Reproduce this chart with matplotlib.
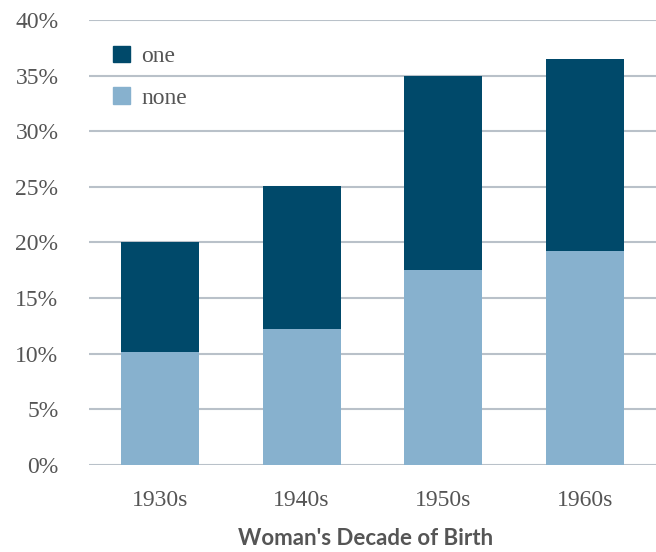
import matplotlib
matplotlib.use("Agg")
import matplotlib.pyplot as plt
from matplotlib.patches import Patch
import numpy as np

categories = ["1930s", "1940s", "1950s", "1960s"]
none_vals = [10.2, 12.2, 17.5, 19.2]
one_vals = [9.8, 12.9, 17.5, 17.3]
yticks = [0, 5, 10, 15, 20, 25, 30, 35, 40]

c_one = "#00496a"
c_none = "#87b1ce"
grid_c = "#b9c1c9"
text_c = "#555555"
serif = "Liberation Serif"

fig = plt.figure(figsize=(6.56, 5.52), dpi=100)
ax = fig.add_axes([0.1357, 0.1576, 0.8643, 0.8062])
x = np.arange(len(categories))
w = 0.55
ax.bar(x, none_vals, w, color=c_none, zorder=3)
ax.bar(x, one_vals, w, bottom=none_vals, color=c_one, zorder=3)
ax.set_xlim(-0.5, 3.5)
ax.set_ylim(0, 40)
ax.set_yticks(yticks)
ax.set_yticklabels([f"{v}%" for v in yticks], family=serif, fontsize=17, color=text_c)
ax.set_xticks(x)
ax.set_xticklabels(categories, family=serif, fontsize=17, color=text_c)
ax.yaxis.grid(True, color=grid_c, linewidth=1.5, zorder=0)
ax.set_axisbelow(True)
for s in ax.spines.values():
    s.set_visible(False)
ax.tick_params(axis="both", length=0)
ax.tick_params(axis="y", pad=22)
ax.tick_params(axis="x", pad=18)
ax.set_xlabel("Woman's Decade of Birth", family="Lato", fontweight="bold", fontsize=16, color=text_c, labelpad=12)
ax.xaxis.label.set_x(0.487)

handles = [Patch(color=c_one, label="one"), Patch(color=c_none, label="none")]
leg = ax.legend(handles=handles, loc="upper left", bbox_to_anchor=(0.005, 0.99), frameon=False,
                prop={"family": serif, "size": 17}, labelspacing=0.85,
                handlelength=0.7, handleheight=0.7, handletextpad=0.5)
for t in leg.get_texts():
    t.set_color(text_c)

fig.savefig("out.png", dpi=100)
